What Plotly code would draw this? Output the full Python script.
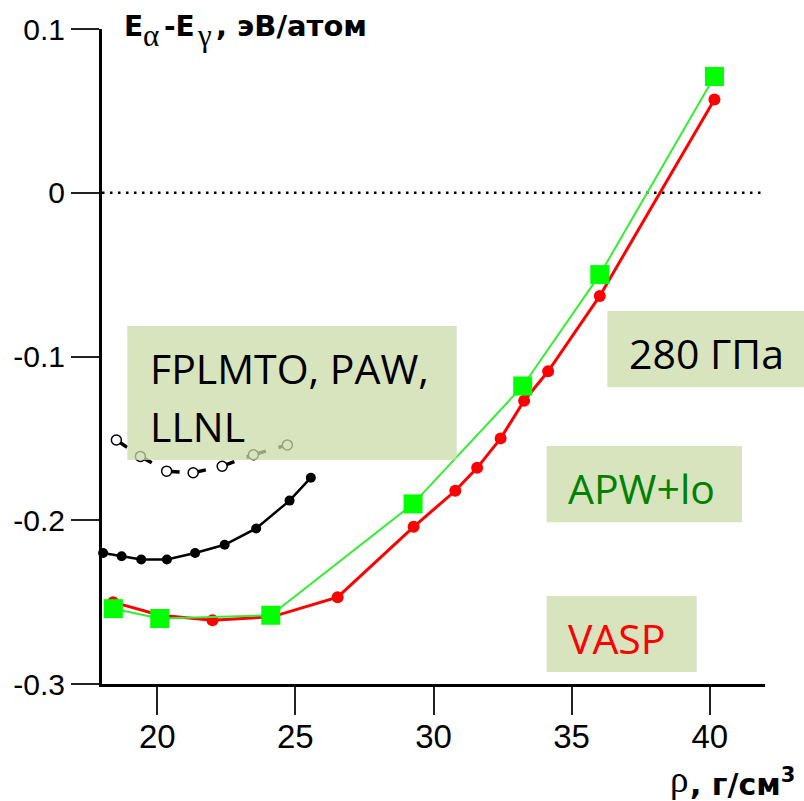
import plotly.graph_objects as go

# Density (g/cm^3) and energy difference E_alpha - E_gamma (eV/atom)
vasp_rho = [18.40, 20.10, 22.00, 24.15, 26.53, 29.28, 30.79, 31.58, 32.43, 33.28, 34.15, 36.02, 40.17]
vasp_e = [-0.250, -0.258, -0.261, -0.259, -0.247, -0.204, -0.182, -0.168, -0.150, -0.127, -0.109, -0.063, 0.057]

apw_rho = [18.41, 20.09, 24.11, 29.26, 33.23, 36.02, 40.17]
apw_e = [-0.254, -0.260, -0.258, -0.190, -0.118, -0.050, 0.071]

fplmto_rho = [18.04, 18.71, 19.42, 20.35, 21.37, 22.44, 23.58, 24.79, 25.56]
fplmto_e = [-0.220, -0.222, -0.224, -0.224, -0.220, -0.215, -0.205, -0.188, -0.174]

paw_rho = [18.52, 19.39, 20.34, 21.30, 22.35, 23.48, 24.71]
paw_e = [-0.151, -0.161, -0.170, -0.171, -0.167, -0.160, -0.154]

x_ticks = [20, 25, 30, 35, 40]
y_ticks = [0.1, 0, -0.1, -0.2, -0.3]
y_ticktext = ["0.1", "0", "-0.1", "-0.2", "-0.3"]

TICK_FONT = "Liberation Sans, Arial, sans-serif"
TITLE_FONT = "DejaVu Sans, Liberation Sans, sans-serif"
GREEK_FONT = "Liberation Serif, DejaVu Serif, serif"
BOX_FONT = "Open Sans, Noto Sans, sans-serif"
BOX_FILL = "rgb(202,219,167)"

fig = go.Figure()

# open-circle series: each segment drawn separately so its dash starts at a point
for i in range(len(paw_rho) - 1):
    fig.add_trace(go.Scatter(
        x=paw_rho[i:i + 2], y=paw_e[i:i + 2], mode="lines",
        line=dict(color="black", width=3.5, dash="13px,13px"),
        hoverinfo="skip", showlegend=False, cliponaxis=False))
fig.add_trace(go.Scatter(
    x=paw_rho, y=paw_e, mode="markers",
    marker=dict(symbol="circle", size=10, color="white",
                line=dict(color="black", width=1.5)),
    showlegend=False, cliponaxis=False))

fig.add_trace(go.Scatter(
    x=fplmto_rho, y=fplmto_e, mode="lines+markers",
    line=dict(color="black", width=2.5),
    marker=dict(symbol="circle", size=10, color="black"),
    showlegend=False, cliponaxis=False))

fig.add_trace(go.Scatter(
    x=vasp_rho, y=vasp_e, mode="lines+markers",
    line=dict(color="#ff0000", width=3),
    marker=dict(symbol="circle", size=12, color="#ff0000"),
    showlegend=False, cliponaxis=False))

fig.add_trace(go.Scatter(
    x=apw_rho, y=apw_e, mode="lines+markers",
    line=dict(color="#33ee33", width=2),
    marker=dict(symbol="square", size=19, color="#00ff00"),
    showlegend=False, cliponaxis=False))

shapes = [
    # dotted zero level
    dict(type="line", xref="x", yref="y", x0=18, x1=42, y0=0, y1=0,
         line=dict(color="black", width=2.5, dash="2.5px,5.5px"), layer="below"),
]

# translucent label boxes (paper coordinates)
boxes = [
    (0.0382, 0.535, 0.342, 0.5466),
    (0.7622, 1.0588, 0.4530, 0.5695),
    (0.6707, 0.9653, 0.2469, 0.3634),
    (0.6707, 0.8970, 0.0183, 0.1344),
]
for x0, x1, y0, y1 in boxes:
    shapes.append(dict(type="rect", xref="paper", yref="paper",
                       x0=x0, x1=x1, y0=y0, y1=y1,
                       fillcolor=BOX_FILL, opacity=0.75,
                       line=dict(width=0), layer="above"))

annotations = [
    dict(text="FPLMTO, PAW,", x=0.0694, y=0.4824, font=dict(color="black")),
    dict(text="LLNL", x=0.0694, y=0.3939, font=dict(color="black")),
    dict(text="280 ГПа", x=0.7919, y=0.5053, font=dict(color="black")),
    dict(text="APW+lo", x=0.6998, y=0.2992, font=dict(color="#008000")),
    dict(text="VASP", x=0.6998, y=0.0702, font=dict(color="#ff0000")),
]
for a in annotations:
    a["font"].update(family=BOX_FONT, size=41)

# axis titles, pieced together so the Greek letters use a serif face
title_parts = [
    ("<b>E</b>", 0.0295, 1.004, TITLE_FONT, 28),
    ("α", 0.0585, 0.990, GREEK_FONT, 31),
    ("<b>-E</b>", 0.0905, 1.004, TITLE_FONT, 28),
    ("γ", 0.1400, 0.990, GREEK_FONT, 31),
    ("<b>, эВ/атом</b>", 0.1690, 1.004, TITLE_FONT, 29),
    ("ρ", 0.8540, -0.146, GREEK_FONT, 37),
    ("<b>, г/см<sup>3</sup></b>", 0.8835, -0.150, TITLE_FONT, 30),
]
for text, x, y, fam, size in title_parts:
    annotations.append(dict(text=text, x=x, y=y,
                            font=dict(family=fam, size=size, color="black")))

for a in annotations:
    a.update(xref="paper", yref="paper", xanchor="left", yanchor="middle",
             showarrow=False)

fig.update_layout(
    width=804, height=801,
    margin=dict(l=102, r=39, t=29, b=117),
    paper_bgcolor="white", plot_bgcolor="white",
    showlegend=False,
    shapes=shapes,
    annotations=annotations,
    xaxis=dict(range=[18, 42], tickvals=x_ticks, ticks="outside", ticklen=28,
               tickwidth=2, tickcolor="#222", showline=True, linewidth=3,
               linecolor="black", showgrid=False, zeroline=False,
               ticklabelstandoff=-7,
               tickfont=dict(family=TICK_FONT, size=33, color="black")),
    yaxis=dict(range=[-0.3, 0.1], tickvals=y_ticks, ticktext=y_ticktext,
               ticks="outside", ticklen=28, tickwidth=2, tickcolor="#222",
               showline=True, linewidth=3, linecolor="black", showgrid=False,
               zeroline=False,
               tickfont=dict(family=TICK_FONT, size=30, color="black")),
)

fig.write_html("out.html")
